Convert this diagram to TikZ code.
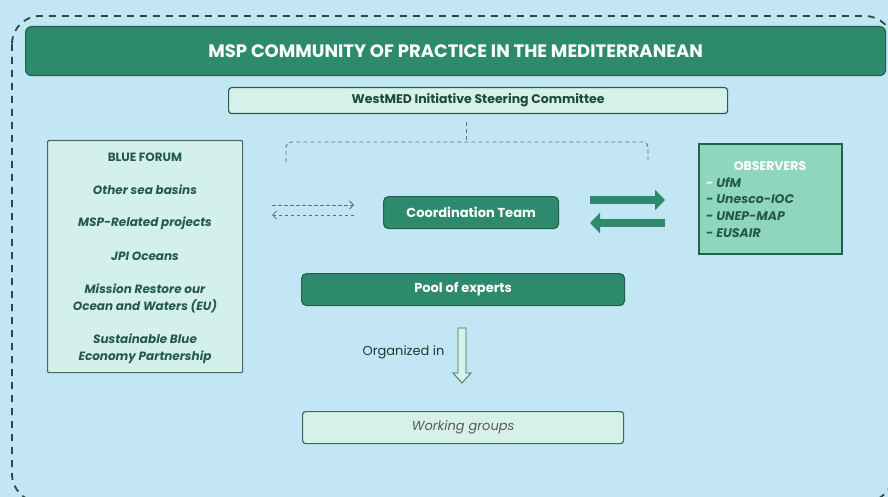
\documentclass[tikz,border=0pt]{standalone}
\usepackage{fontspec}
\setmainfont{Poppins}
\usetikzlibrary{arrows.meta}
\definecolor{bgblue}{HTML}{C2E6F4}
\definecolor{dkgreen}{HTML}{2E8A6C}
\definecolor{dkborder}{HTML}{22614F}
\definecolor{mint}{HTML}{D6F1EA}
\definecolor{obsfill}{HTML}{8ED6BC}
\definecolor{txtgreen}{HTML}{245A4A}
\definecolor{dashgrey}{HTML}{666E6C}
\definecolor{outline}{HTML}{2B4A43}
\tikzset{
  darkbox/.style={draw=dkborder, line width=1.2pt, fill=dkgreen, rounded corners=5pt, text=white, font=\fontsize{13}{15}\selectfont\bfseries, inner sep=0pt},
  lightbox/.style={draw=dkborder, line width=1.2pt, fill=mint, rounded corners=3pt, inner sep=0pt},
  dasharrow/.style={draw=dashgrey, line width=0.8pt, dash pattern=on 3.5pt off 2.5pt, -{Straight Barb[length=4pt,width=8pt]}},
  bracket/.style={draw=dashgrey, line width=0.9pt, dash pattern=on 4pt off 3pt},
  bigarrow/.style={draw=dkgreen, line width=8.5pt, -{Triangle[length=10pt,width=20pt]}},
  itemtext/.style={text=txtgreen, font=\fontsize{12}{17}\selectfont\bfseries\itshape, align=center},
}
\begin{document}
\begin{tikzpicture}[x=1pt,y=-1pt]
\useasboundingbox (0,0) rectangle (888,497);
\fill[bgblue] (0,0) rectangle (888,497);
% outer dashed frame
\draw[outline, line width=1.8pt, dash pattern=on 7pt off 6pt, rounded corners=28pt] (12,16) rectangle (893,502);
% title
\node[darkbox, minimum width=860pt, minimum height=49pt, anchor=north west, rounded corners=6pt] (title) at (25,26)
  {\fontsize{18}{20}\selectfont MSP COMMUNITY OF PRACTICE IN THE MEDITERRANEAN};
% steering committee
\node[lightbox, minimum width=499pt, minimum height=26pt, anchor=north west, text=txtgreen!80!black, font=\fontsize{12.5}{14}\selectfont\bfseries] (steer) at (228,87)
  {WestMED Initiative Steering Committee};
% bracket
\coordinate (bl) at (286,162);
\coordinate (br) at (648,162);
\coordinate (bt) at (466,122);
\coordinate (bm) at (466,142);
\draw[bracket, rounded corners=5pt] (bl) -- (286,142) -- (br |- bm) -- (br);
\draw[bracket] (bt) -- (bm);
% left box
\node[lightbox, draw=dkborder!60!gray, fill=mint!90!bgblue, rounded corners=1pt, minimum width=195pt, minimum height=232pt, anchor=north west] (left) at (47,140) {};
\node[text=txtgreen, font=\fontsize{12}{14}\selectfont\bfseries] (bf) at (145,157) {BLUE FORUM};
\node[itemtext] (osb) at (145,190) {Other sea basins};
\node[itemtext] (msp) at (145,223) {MSP-Related projects};
\node[itemtext] (jpi) at (145,256) {JPI Oceans};
\node[itemtext] (mis) at (145,298.5) {Mission Restore our\\Ocean and Waters (EU)};
\node[itemtext] (sbe) at (145,349) {Sustainable Blue\\Economy Partnership};
% coordination team
\node[darkbox, minimum width=175pt, minimum height=32pt, anchor=north west] (coord) at (383,196) {Coordination Team};
% dashed arrows
\coordinate (dl) at (272,205);
\coordinate (dr) at (354,205);
\coordinate (dl2) at (272,215);
\coordinate (dr2) at (354,215);
\draw[dasharrow] (dl) -- (dr);
\draw[dasharrow] (dr2) -- (dl2);
% observers
\node[draw=dkborder, line width=2pt, fill=obsfill, minimum width=143pt, minimum height=110pt, anchor=north west, inner sep=0pt] (obs) at (698,143) {};
\node[text=white, font=\fontsize{12.5}{14}\selectfont\bfseries] (obst) at (770,166) {OBSERVERS};
\node[anchor=north west, text=txtgreen, font=\fontsize{12.5}{16.7}\selectfont\bfseries\itshape, align=left, inner sep=0pt] (obsl) at (706,177)
  {\textcolor{white}{-} UfM\\- Unesco-IOC\\- UNEP-MAP\\- EUSAIR};
% big arrows
\coordinate (a1s) at (590,200);
\coordinate (a1e) at (665,200);
\coordinate (a2s) at (665,223);
\coordinate (a2e) at (590,223);
\draw[bigarrow] (a1s) -- (a1e);
\draw[bigarrow] (a2s) -- (a2e);
% pool of experts
\node[darkbox, minimum width=323pt, minimum height=32pt, anchor=north west] (pool) at (301,273) {Pool of experts};
% organized in arrow
\coordinate (oa) at (462,328);
\draw[draw=dkborder!70!gray, line width=0.8pt, fill=mint, line join=miter]
  (458,328) -- (466,328) -- (466,373) -- (471,373) -- (462,383) -- (453,373) -- (458,373) -- cycle;
\node[text=txtgreen!70!black, font=\fontsize{13}{15}\selectfont, anchor=east] (orgl) at (448,352) {Organized in};
% working groups
\node[lightbox, draw=dkborder!70!gray, minimum width=321pt, minimum height=32pt, anchor=north west, text=gray!70!black, font=\fontsize{13}{15}\selectfont\itshape] (wg) at (302,411) {Working groups};
\end{tikzpicture}
\end{document}
